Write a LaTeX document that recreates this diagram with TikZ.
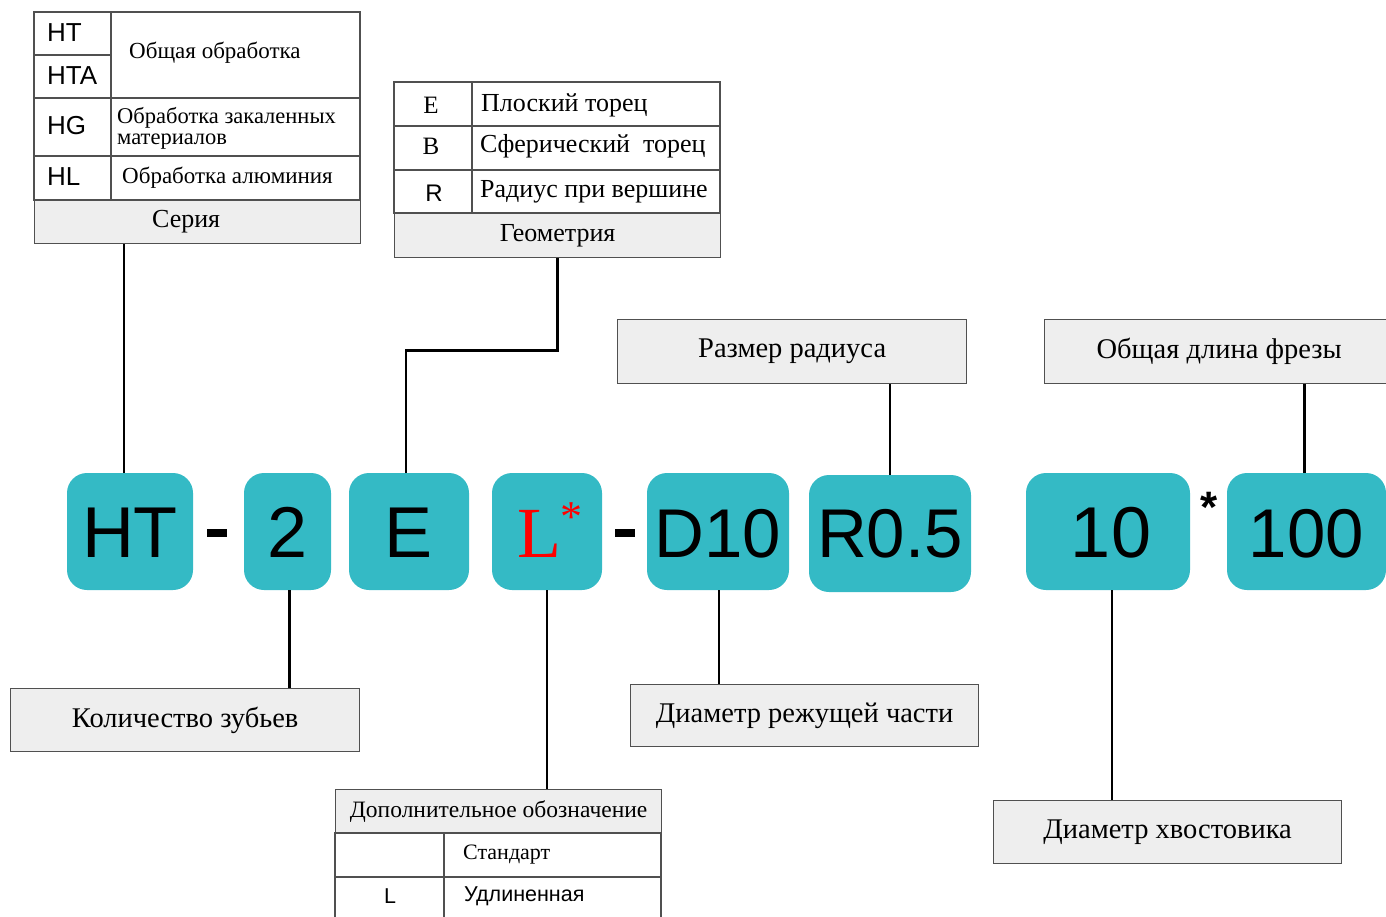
\documentclass[tikz,border=0pt]{standalone}
\usepackage{fontspec}
\setmainfont{Liberation Serif}
\setsansfont{Liberation Sans}
\usepackage{tikz}
\usetikzlibrary{calc}

\definecolor{chipteal}{HTML}{34BAC5}
\definecolor{boxgray}{HTML}{EEEEEE}
\definecolor{framegray}{HTML}{505050}

\tikzset{
    chip/.style={fill=chipteal, rounded corners=20pt, inner sep=0pt, text height=52pt, text depth=0pt, font=\sffamily\fontsize{72}{72}\selectfont},
    tagbox/.style={draw=framegray, fill=boxgray, line width=1.3pt, inner sep=0pt, anchor=north west, font=\fontsize{28.5}{28.5}\selectfont},
    cellline/.style={draw=framegray, line width=1.3pt},
    cellsans/.style={inner sep=0pt, font=\sffamily\fontsize{26}{26}\selectfont},
    cellserif/.style={inner sep=0pt, anchor=west, font=\fontsize{23}{20}\selectfont},
    geomtext/.style={inner sep=0pt, anchor=west, font=\fontsize{26}{26}\selectfont},
    link/.style={line width=2.5pt, black},
}

\begin{document}
\begin{tikzpicture}[x=1pt,y=-1pt]

            \useasboundingbox (0,0) rectangle (1386,917);

            % Table: series
            \draw[cellline] (34,12) rectangle (360,200);
            \draw[cellline] (111,12) -- (111,200); % column split
            \draw[cellline] (34,55) -- (111,55);
            \draw[cellline] (34,98) -- (360,98);
            \draw[cellline] (34,156) -- (360,156);
            \node[cellsans, anchor=west] (sHT) at (47,33) {HT};
            \node[cellsans, anchor=west] (sHTA) at (47,76) {HTA};
            \node[cellsans, anchor=west] (sHG) at (47,126) {HG};
            \node[cellsans, anchor=west] (sHL) at (47,177) {HL};
            \node[cellserif] (tGen) at (129,53) {Общая обработка};
            \node[cellserif, align=left, font=\fontsize{22.5}{21}\selectfont] (tHard) at (117,128) {Обработка закаленных\\материалов};
            \node[cellserif] (tAlu) at (122,178) {Обработка алюминия};
            \node[tagbox, minimum width=326, minimum height=43, font=\fontsize{26}{26}\selectfont] (series) at (34,200) {\hspace*{-23pt}Серия};

            % Table: geometry
            \draw[cellline] (394,82) rectangle (720,213);
            \draw[cellline] (472,82) -- (472,213); % column split
            \draw[cellline] (394,126) -- (720,126);
            \draw[cellline] (394,170) -- (720,170);
            \node[inner sep=0pt, font=\fontsize{25}{25}\selectfont] (gE) at (431,105) {E};
            \node[inner sep=0pt, font=\fontsize{25}{25}\selectfont] (gB) at (431,146) {B};
            \node[cellsans, font=\sffamily\fontsize{24}{24}\selectfont] (gR) at (434,193) {R};
            \node[geomtext] (tFlat) at (481,105) {Плоский торец};
            \node[geomtext] (tBall) at (480,146) {Сферический\ \ торец};
            \node[geomtext] (tCorner) at (480,192) {Радиус при вершине};
            \node[tagbox, minimum width=326, minimum height=44, font=\fontsize{26}{26}\selectfont] (geom) at (394,213) {Геометрия};

            % Upper label boxes
            \node[tagbox, minimum width=349, minimum height=64] (radius) at (617,319) {Размер радиуса};
            \node[tagbox, minimum width=349, minimum height=64] (length) at (1044,319) {Общая длина фрезы};

            % Code chips
            \node[chip, minimum width=126, minimum height=117] (ht) at (130,531.5) {HT};
            \node[chip, minimum width=87, minimum height=117] (two) at (287.5,531.5) {2};
            \node[chip, minimum width=120, minimum height=117] (e) at (409,531.5) {E};
            \node[chip, minimum width=110, minimum height=117] (l) at (547,531.5) {\rmfamily\color{red}\hspace*{6pt}L\raisebox{26pt}{\fontsize{44}{44}\selectfont*}};
            \node[chip, minimum width=142, minimum height=117] (d) at (718,531.5) {\fontsize{69}{69}\selectfont D10};
            \node[chip, minimum width=162, minimum height=117, text height=48pt] (r) at (890,533.5) {\fontsize{69}{69}\selectfont R0.5};
            \node[chip, minimum width=164, minimum height=117] (ten) at (1108,531.5) {\hspace*{6pt}10};
            \node[chip, minimum width=159, minimum height=117] (hund) at (1306.5,531.5) {\fontsize{69}{69}\selectfont 100};

            % Separators
            \node[fill=black, inner sep=0pt, minimum width=20, minimum height=8] (dasha) at (217,533) {};
            \node[fill=black, inner sep=0pt, minimum width=20, minimum height=8] (dashb) at (625,533) {};
            \node[inner sep=0pt, font=\sffamily\bfseries\fontsize{44}{44}\selectfont] (times) at (1209,507) {*};

            % Lower label boxes
            \node[tagbox, minimum width=349, minimum height=63] (teeth) at (10,688) {Количество зубьев};
            \node[tagbox, minimum width=348, minimum height=62] (cutdia) at (630,684) {Диаметр режущей части};
            \node[tagbox, minimum width=348, minimum height=63] (shank) at (993,800) {Диаметр хвостовика};

            % Table: extra designation
            \node[tagbox, minimum width=326, minimum height=44, font=\fontsize{23.5}{23.5}\selectfont] (extra) at (335,789) {Дополнительное обозначение};
            \draw[cellline] (335,833) rectangle (661,930);
            \draw[cellline] (444,833) -- (444,930); % column split
            \draw[cellline] (335,877) -- (661,877);
            \node[cellserif, font=\fontsize{22}{22}\selectfont] (tStd) at (463,855) {Стандарт};
            \node[cellsans, font=\sffamily\fontsize{21.5}{21.5}\selectfont] (xL) at (390,896) {L};
            \node[cellsans, anchor=west, font=\sffamily\fontsize{21.5}{21.5}\selectfont] (tLong) at (464,896) {Удлиненная};

            % Connectors
            \draw[link] ([xshift=-6pt]ht.north) -- ([xshift=-6pt]ht.north |- series.south);
            \draw[link] (geom.south) -- ++(0,92) -| ([xshift=-3pt]e.north);
            \draw[link] (r.north) -- (r.north |- radius.south);
            \draw[link] ([xshift=-2pt]hund.north) -- ([xshift=-2pt]hund.north |- length.south);
            \draw[link] ([xshift=2pt]two.south) -- ([xshift=2pt]two.south |- teeth.north);
            \draw[link] (l.south) -- (l.south |- extra.north);
            \draw[link] ([xshift=1pt]d.south) -- ([xshift=1pt]d.south |- cutdia.north);
            \draw[link] ([xshift=4pt]ten.south) -- ([xshift=4pt]ten.south |- shank.north);

\end{tikzpicture}
\end{document}
